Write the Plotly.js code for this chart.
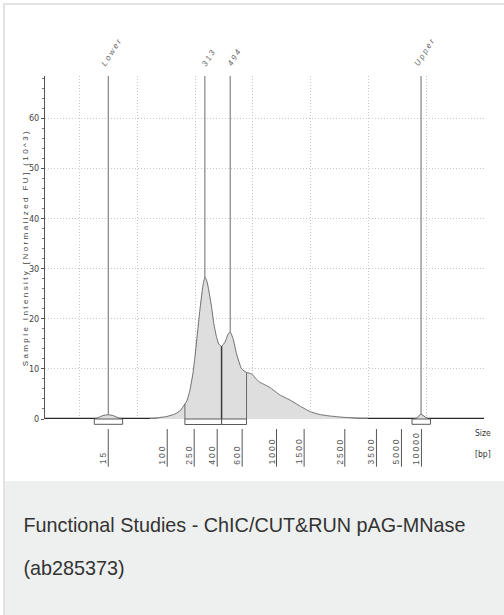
<!DOCTYPE html>
<html><head><meta charset="utf-8">
<script src="https://cdn.plot.ly/plotly-3.0.1.min.js"></script>
<style>
html,body{margin:0;padding:0;background:#fff;width:504px;height:615px;overflow:hidden;}
#card{position:absolute;left:3px;top:3px;width:540px;height:660px;border-left:2px solid #e2e2e2;border-top:2px solid #e2e2e2;box-sizing:border-box;}
#caption{position:absolute;left:5px;top:481px;width:540px;height:150px;background:#eef0ef;}
#caption p{margin:0;position:absolute;left:18.5px;top:23px;font-family:"Liberation Sans",Arial,sans-serif;font-size:19.8px;line-height:43px;color:#333;white-space:nowrap;}
#chart{position:absolute;left:0;top:0;width:504px;height:481px;}
.annotation-text{letter-spacing:2px;}
.annotation[data-index="0"] .annotation-text,.annotation[data-index="1"] .annotation-text{letter-spacing:0;}
.annotation[data-index="2"] .annotation-text{letter-spacing:2.4px;}
</style></head><body>
<div id="card"></div>
<div id="caption"><p>Functional Studies - ChIC/CUT&amp;RUN pAG-MNase<br>(ab285373)</p></div>
<div id="chart"></div>
<script>
// ---- data (x = migration time units, y = intensity in 10^3 FU) ----
const xRange = [14, 90];
const yRange = [0, 68.4];

const lowerX = [22.65, 23.34, 24.03, 24.95, 25.76, 26.45, 27.15];
const lowerY = [0, 0.35, 0.7, 0.85, 0.7, 0.35, 0];

const smearX = [32.16, 33.03, 33.89, 35.10, 36.49, 37.35, 37.87, 38.56, 39.08, 39.60, 39.95, 40.47, 40.81, 41.33, 41.68, 42.02, 42.25, 42.84, 43.23, 43.70, 44.10, 44.57, 45.14, 45.66, 46.06, 46.57, 47.16, 48.03, 48.89, 49.76, 50.62, 51.19, 51.77, 52.92, 54.65, 56.38, 58.11, 59.85, 61.57, 63.30, 65.03, 66.77, 68.50, 69.88];
const smearY = [0, 0.1, 0.3, 0.5, 1.0, 1.6, 2.4, 3.6, 5.7, 9.0, 12.3, 18.0, 21.7, 26.5, 28.3, 27.5, 26.3, 22.3, 19.0, 16.3, 14.9, 14.5, 15.3, 16.8, 17.4, 16.0, 13.0, 10.0, 9.3, 9.0, 7.9, 7.3, 7.0, 6.3, 4.8, 3.8, 2.6, 1.5, 0.9, 0.6, 0.4, 0.25, 0.1, 0];

const upperX = [78.13, 79.10, 80.31];
const upperY = [0, 1.0, 0];

const markerNames = ['Lower', '313', '494', 'Upper'];
const markerPos = [24.95, 41.68, 46.06, 79.10];

const ladderLabels = ['15', '100', '250', '400', '600', '1000', '1500', '2500', '3500', '5000', '10000'];
const ladderPos = [24.95, 35.16, 39.83, 43.81, 48.13, 54.08, 58.86, 65.90, 71.38, 75.71, 79.17];

const peakBoxStart = [22.53, 77.54];
const peakBoxEnd = [27.44, 80.73];
const regionEdges = [38.22, 44.57, 48.89];

const yTitle = 'Sample Intensity [Normalized FU] (10^3)';
const sizeLabels = ['Size', '[bp]'];

// ---- helpers ----
const allX = lowerX.concat(smearX, upperX);
const allY = lowerY.concat(smearY, upperY);
function curveAt(x) {
  for (let i = 0; i < allX.length - 1; i++) {
    if (x >= allX[i] && x <= allX[i + 1]) {
      const t = (x - allX[i]) / (allX[i + 1] - allX[i]);
      return allY[i] + t * (allY[i + 1] - allY[i]);
    }
  }
  return 0;
}
const plotH = 343, plotW = 439;
function py(pxBelow) { return -pxBelow / plotH; }

const fillStyle = {fill: 'tozeroy', fillcolor: '#dedede', line: {color: '#6e6e6e', width: 1, shape: 'spline', smoothing: 0.4}};
const traces = [
  {x: xRange, y: [0, 0], mode: 'lines', line: {color: '#2a2a2a', width: 2.6}, cliponaxis: false, hoverinfo: 'skip'},
  {x: [lowerX[0], lowerX[lowerX.length - 1]], y: [0, 0], mode: 'lines', line: {color: '#8a8a8a', width: 2.6}, cliponaxis: false, hoverinfo: 'skip'},
  {x: [smearX[0], smearX[smearX.length - 1]], y: [0, 0], mode: 'lines', line: {color: '#8a8a8a', width: 2.6}, cliponaxis: false, hoverinfo: 'skip'},
  {x: [upperX[0], upperX[upperX.length - 1]], y: [0, 0], mode: 'lines', line: {color: '#8a8a8a', width: 2.6}, cliponaxis: false, hoverinfo: 'skip'},
  Object.assign({x: lowerX, y: lowerY, mode: 'lines'}, fillStyle),
  Object.assign({x: smearX, y: smearY, mode: 'lines'}, fillStyle),
  Object.assign({x: upperX, y: upperY, mode: 'lines'}, fillStyle, {line: {color: '#6e6e6e', width: 1}})
];

const shapes = [];
// marker lines from peak to top
markerPos.forEach(function (p) {
  shapes.push({type: 'line', xref: 'x', yref: 'y', x0: p, x1: p, y0: curveAt(p), y1: yRange[1], line: {color: '#6a6a6a', width: 1}});
});
// region boundaries
regionEdges.forEach(function (p, i) {
  shapes.push({type: 'line', xref: 'x', yref: 'y', x0: p, x1: p, y0: 0, y1: curveAt(p), line: {color: i === 1 ? '#3a3a3a' : '#6a6a6a', width: i === 1 ? 1.5 : 1}});
});
// peak boxes
peakBoxStart.forEach(function (s, i) {
  shapes.push({type: 'rect', xref: 'x', yref: 'paper', x0: s, x1: peakBoxEnd[i], y0: 0, y1: py(5.3), fillcolor: '#ffffff', line: {color: '#5a5a5a', width: 1}});
});
for (let i = 0; i < regionEdges.length - 1; i++) {
  shapes.push({type: 'rect', xref: 'x', yref: 'paper', x0: regionEdges[i], x1: regionEdges[i + 1], y0: 0, y1: py(5.5), fillcolor: 'rgba(0,0,0,0)', line: {color: '#5a5a5a', width: 1}});
}
// ladder tick lines
ladderPos.forEach(function (p) {
  shapes.push({type: 'line', xref: 'x', yref: 'paper', x0: p, x1: p, y0: py(10), y1: py(47.7), line: {color: '#555', width: 1}});
});

const annotations = [];
annotations.push({text: sizeLabels[0], xref: 'paper', yref: 'paper', x: 438 / plotW, y: py(13.5), xanchor: 'center', yanchor: 'middle', showarrow: false, borderpad: 0, font: {family: 'Liberation Sans Narrow, DejaVu Sans Condensed, sans-serif', size: 8.5, color: '#333'}});
annotations.push({text: sizeLabels[1], xref: 'paper', yref: 'paper', x: 438 / plotW, y: py(35), xanchor: 'center', yanchor: 'middle', showarrow: false, borderpad: 0, font: {family: 'Liberation Sans Narrow, DejaVu Sans Condensed, sans-serif', size: 8.5, color: '#333'}});
annotations.push({text: yTitle, xref: 'paper', yref: 'paper', x: -20 / plotW, y: 0.5, xanchor: 'center', yanchor: 'middle', textangle: -90, showarrow: false, borderpad: 0, font: {family: 'Liberation Sans, Arial, sans-serif', size: 8, color: '#444'}});
markerNames.forEach(function (n, i) {
  annotations.push({text: n, xref: 'x', yref: 'paper', x: markerPos[i], y: 1, xanchor: 'center', yanchor: 'bottom', xshift: 4, yshift: 7, textangle: -58, showarrow: false, borderpad: 0, font: {family: 'Liberation Sans, Arial, sans-serif', size: 8, style: 'italic', color: '#666'}});
});
ladderLabels.forEach(function (t, i) {
  annotations.push({text: t, xref: 'x', yref: 'paper', x: ladderPos[i], y: py(46.5), xanchor: 'center', yanchor: 'bottom', xshift: -5, textangle: -90, showarrow: false, borderpad: 0, font: {family: 'Liberation Sans, Arial, sans-serif', size: 8.5, color: '#555'}});
});

const layout = {
  width: 504, height: 481,
  margin: {l: 45, r: 20, t: 76, b: 62},
  paper_bgcolor: 'rgba(0,0,0,0)', plot_bgcolor: 'rgba(0,0,0,0)',
  showlegend: false,
  xaxis: {range: xRange, tick0: 0, dtick: 10, showgrid: true, gridcolor: '#c8c8c8', griddash: '1px,2px', gridwidth: 1, showticklabels: false, ticks: '', zeroline: false, showline: false, fixedrange: true},
  yaxis: {range: yRange, tick0: 0, dtick: 10, showgrid: true, gridcolor: '#c8c8c8', griddash: '1px,2px', gridwidth: 1, zeroline: false, showline: true, linecolor: '#555', linewidth: 1,
    ticks: 'outside', ticklen: 3, tickcolor: '#555', tickwidth: 1,
    minor: {dtick: 2, ticks: 'outside', ticklen: 2, tickcolor: '#777', showgrid: false},
    tickfont: {family: 'Liberation Sans Narrow, DejaVu Sans Condensed, sans-serif', size: 9, color: '#444'},
    fixedrange: true},
  shapes: shapes,
  annotations: annotations
};
Plotly.newPlot('chart', traces, layout, {staticPlot: true, displayModeBar: false});
</script></body></html>
